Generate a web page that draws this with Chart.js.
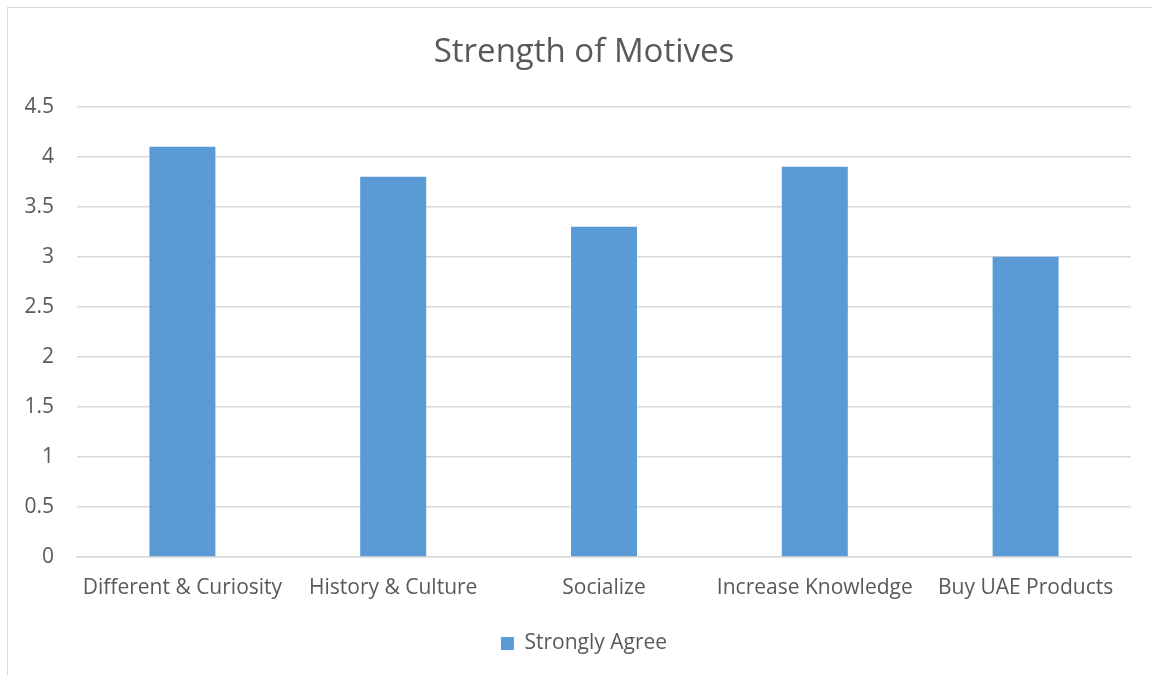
<!DOCTYPE html>
<html>
<head>
<meta charset="utf-8">
<script src="https://cdn.jsdelivr.net/npm/chart.js@4"></script>
<style>
  html, body { margin: 0; padding: 0; width: 1152px; height: 675px; overflow: hidden; background: #fff; }
  #frame { position: absolute; left: 7px; top: 7px; width: 1160px; height: 680px; border-left: 1.5px solid #d9d9d9; border-top: 1.5px solid #d9d9d9; box-sizing: border-box; }
  #wrap { position: absolute; left: 8px; top: 8px; width: 1152px; height: 675px; }
</style>
</head>
<body>
<div id="frame"></div>
<div id="wrap"><canvas id="c" width="1152" height="675"></canvas></div>
<script>
const categories = ["Different & Curiosity", "History & Culture", "Socialize", "Increase Knowledge", "Buy UAE Products"];
const seriesName = "Strongly Agree";
const values = [4.1, 3.8, 3.3, 3.9, 3.0];
const chartTitle = "Strength of Motives";

const FONT = "'Open Sans', 'Liberation Sans', sans-serif";
const TXT = "#595959";

// Center title and legend over the whole chart object (as in the office chart)
const recenter = {
  id: "recenter",
  afterLayout(chart) {
    const w = chart.width;
    [chart.titleBlock, chart.legend].forEach(b => {
      if (b) { b.left = 0; b.right = w; b.width = w; }
    });
  }
};

new Chart(document.getElementById("c"), {
  type: "bar",
  data: {
    labels: categories,
    datasets: [{
      label: seriesName,
      data: values,
      backgroundColor: "#5B9BD5",
      borderWidth: 0,
      categoryPercentage: 1.0,
      barPercentage: 0.313
    }]
  },
  plugins: [recenter],
  options: {
    responsive: false,
    animation: false,
    devicePixelRatio: 1,
    layout: { padding: { left: 0, right: 29, top: 0, bottom: 19 } },
    plugins: {
      title: {
        display: true,
        text: chartTitle,
        color: TXT,
        font: { family: FONT, size: 33, weight: "normal" },
        padding: { top: 25, bottom: 34 }
      },
      legend: {
        display: true,
        position: "bottom",
        labels: {
          color: TXT,
          font: { family: FONT, size: 21 },
          boxWidth: 13,
          boxHeight: 13,
          padding: 10
        }
      },
      tooltip: { enabled: false }
    },
    scales: {
      x: {
        grid: { display: false, drawTicks: false },
        border: { display: true, color: "#d9d9d9", width: 1.5 },
        ticks: { color: TXT, font: { family: FONT, size: 21 }, padding: 18, maxRotation: 0, autoSkip: false },
        afterFit: (s) => { s.height = 66; }
      },
      y: {
        min: 0,
        max: 4.5,
        ticks: { stepSize: 0.5, color: TXT, font: { family: FONT, size: 21 }, padding: 23,
          callback: (v) => String(v) },
        grid: { color: "#d9d9d9", lineWidth: 1.5, drawTicks: false },
        border: { display: false },
        afterFit: (s) => { s.width = 69; }
      }
    }
  }
});
</script>
</body>
</html>
